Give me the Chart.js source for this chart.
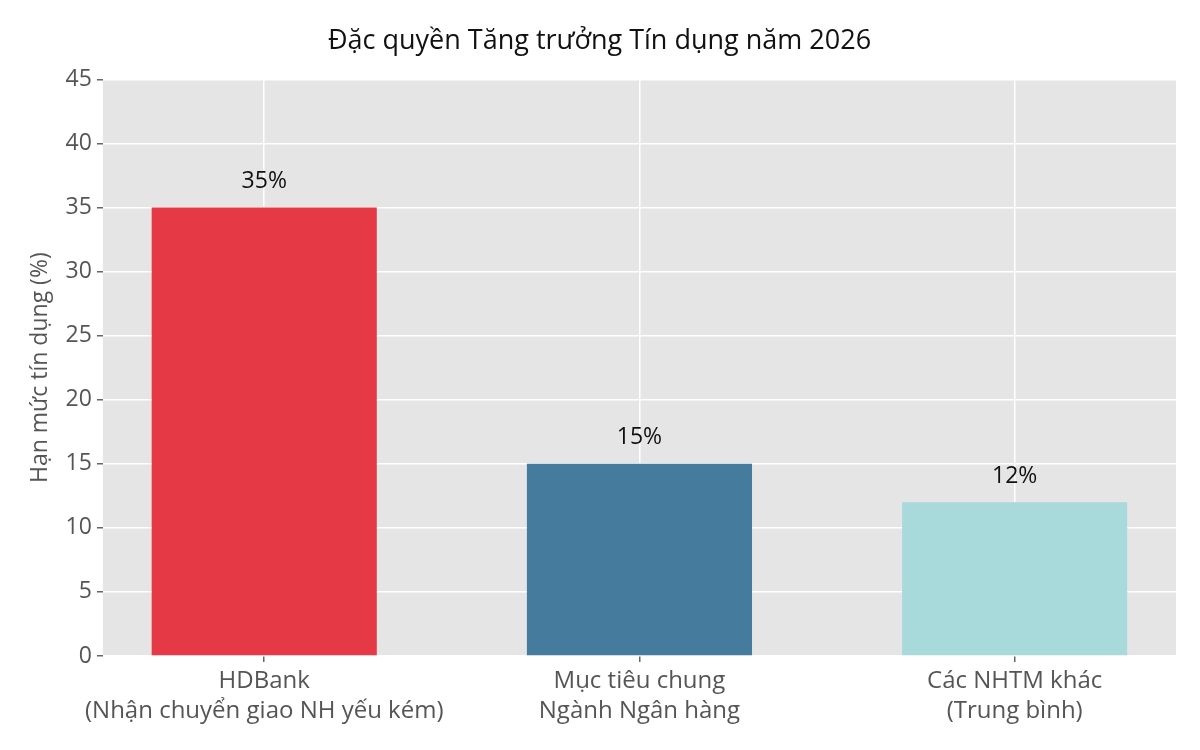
<!DOCTYPE html>
<html>
<head>
<meta charset="utf-8">
<script src="https://cdn.jsdelivr.net/npm/chart.js@4.4.0/dist/chart.umd.min.js"></script>
<style>
    body { margin: 0; background: #fff; }
    #wrap { width: 1200px; height: 750px; }
</style>
</head>
<body>
<div id="wrap"><canvas id="creditChart"></canvas></div>
<script>
const categories = [
    ['HDBank', '(Nhận chuyển giao NH yếu kém)'],
    ['Mục tiêu chung', 'Ngành Ngân hàng'],
    ['Các NHTM khác', '(Trung bình)']
];
const creditLimits = [35, 15, 12];
const barColors = ['#E63946', '#457B9D', '#A8DADC'];
const valueLabels = ['35%', '15%', '12%'];
const yTicks = [0, 5, 10, 15, 20, 25, 30, 35, 40, 45];

const FONT = "'Open Sans', sans-serif";

// grey panel behind the plot, ggplot style
const panelBg = {
    id: 'panelBg',
    beforeDraw(chart) {
        const { ctx, chartArea } = chart;
        ctx.save();
        ctx.fillStyle = '#E5E5E5';
        ctx.fillRect(chartArea.left, chartArea.top, chartArea.width, chartArea.height);
        ctx.restore();
    }
};

// percentage text above each bar
const barValues = {
    id: 'barValues',
    afterDatasetsDraw(chart) {
        const { ctx } = chart;
        const meta = chart.getDatasetMeta(0);
        ctx.save();
        ctx.font = `23px ${FONT}`;
        ctx.fillStyle = '#111';
        ctx.textAlign = 'center';
        ctx.textBaseline = 'middle';
        meta.data.forEach((bar, i) => {
            ctx.fillText(valueLabels[i], bar.x, bar.y - 26);
        });
        ctx.restore();
    }
};

new Chart(document.getElementById('creditChart').getContext('2d'), {
    type: 'bar',
    data: {
        datasets: [{
            data: creditLimits.map((v, i) => ({ x: i, y: v })),
            backgroundColor: barColors,
            barPercentage: 0.6,
            categoryPercentage: 1.0,
            borderWidth: 0
        }]
    },
    options: {
        responsive: true,
        maintainAspectRatio: false,
        animation: false,
        layout: {
            padding: { left: 23, right: 24, top: 13, bottom: 20 }
        },
        plugins: {
            legend: { display: false },
            tooltip: { enabled: false },
            title: {
                display: true,
                text: 'Đặc quyền Tăng trưởng Tín dụng năm 2026',
                color: '#111',
                font: { family: FONT, size: 27, weight: 'normal' },
                padding: { top: 12, bottom: 22 }
            }
        },
        scales: {
            x: {
                type: 'linear',
                min: -0.43,
                max: 2.43,
                offset: false,
                afterBuildTicks(scale) {
                    scale.ticks = categories.map((_, i) => ({ value: i }));
                },
                ticks: {
                    color: '#555',
                    font: { family: FONT, size: 24, lineHeight: 1.25 },
                    padding: 4,
                    maxRotation: 0,
                    autoSkip: false,
                    callback: (value) => categories[value]
                },
                grid: {
                    offset: false,
                    color: '#FFFFFF',
                    lineWidth: 1.5,
                    tickColor: '#666',
                    tickLength: 6
                },
                border: { display: false }
            },
            y: {
                min: 0,
                max: 45,
                afterBuildTicks(scale) {
                    scale.ticks = yTicks.map(v => ({ value: v }));
                },
                ticks: {
                    color: '#555',
                    font: { family: FONT, size: 23 },
                    padding: 5
                },
                grid: {
                    color: '#FFFFFF',
                    lineWidth: 1.5,
                    tickColor: '#666',
                    tickLength: 6
                },
                border: { display: false },
                title: {
                    display: true,
                    text: 'Hạn mức tín dụng (%)',
                    color: '#555',
                    font: { family: FONT, size: 23 },
                    padding: { bottom: 6 }
                }
            }
        }
    },
    plugins: [panelBg, barValues]
});
</script>
</body>
</html>
